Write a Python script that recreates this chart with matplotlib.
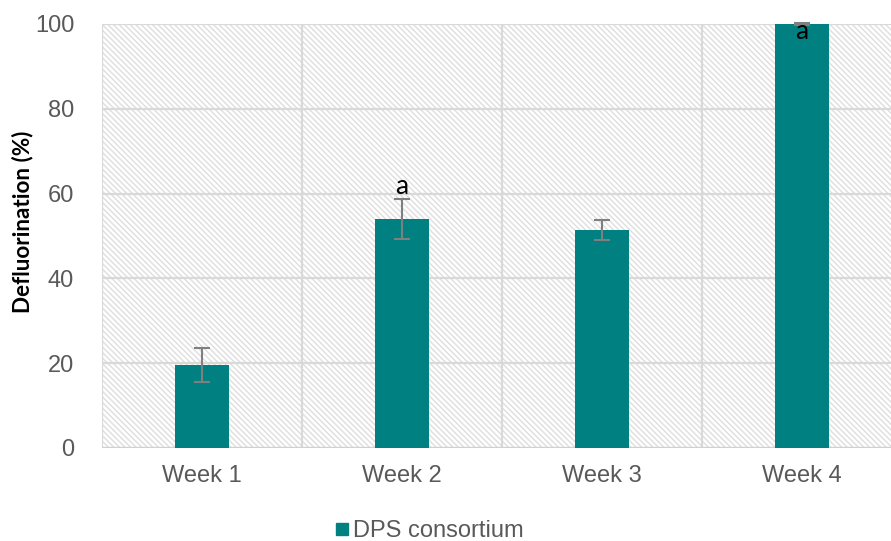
import matplotlib
matplotlib.use("Agg")
import matplotlib.pyplot as plt
from matplotlib.patches import Rectangle
from matplotlib.lines import Line2D

plt.rcParams['font.family'] = ['Liberation Sans', 'DejaVu Sans']
plt.rcParams['hatch.color'] = '#dedede'
plt.rcParams['hatch.linewidth'] = 1.0

weeks = ["Week 1", "Week 2", "Week 3", "Week 4"]
defluorination = [19.6, 54.0, 51.4, 100.0]
errors = [4.0, 4.7, 2.4, 0.3]
letters = ["", "a", "", "a"]
letter_baseline = [None, 59.9, None, 96.5]
series_name = "DPS consortium"

teal = "#008080"
grid_c = "#d9d9d9"
text_c = "#595959"

fig = plt.figure(figsize=(8.91, 5.41), dpi=100)
ax = fig.add_axes([102 / 891, 1 - 448 / 541, 800 / 891, 424 / 541])

x = list(range(len(weeks)))
ax.set_xlim(-0.5, len(weeks) - 0.5)
ax.set_ylim(0, 100)

# hatched plot-area background
ax.add_patch(Rectangle((0, 0), 1, 1, transform=ax.transAxes, facecolor='white',
                       edgecolor='#dedede', hatch='\\\\\\\\\\\\', linewidth=0, zorder=0))

# grid: horizontal at major ticks, vertical at category boundaries
for yv in range(0, 101, 20):
    ax.axhline(yv, color=grid_c, lw=1.6, zorder=1)
for xv in [-0.5, 0.5, 1.5, 2.5]:
    ax.axvline(xv, color=grid_c, lw=1.6, zorder=1)

ax.bar(x, defluorination, width=0.27, color=teal, zorder=3)
ax.errorbar(x, defluorination, yerr=errors, fmt='none', ecolor='#7f7f7f',
            elinewidth=1.5, capsize=6, capthick=1.5, zorder=4, clip_on=False)

for xi, lab, yb in zip(x, letters, letter_baseline):
    if lab:
        ax.text(xi, yb, lab, ha='center', va='baseline', fontsize=19,
                family=['Lato', 'DejaVu Sans'], color='black', zorder=5)

for s in ax.spines.values():
    s.set_visible(False)
ax.axhline(0, color='#d0d0d0', lw=1.6, zorder=2)

ax.set_yticks(range(0, 101, 20))
ax.set_xticks(x)
ax.set_xticklabels(weeks)
ax.tick_params(axis='both', length=0, labelsize=17, colors=text_c)
ax.tick_params(axis='y', pad=20)
ax.tick_params(axis='x', pad=12)
ax.set_ylabel("Defluorination (%)", fontsize=16.2, fontweight='bold', color='black',
              family=['Lato', 'DejaVu Sans'])
ax.yaxis.set_label_coords(-0.086, 0.533)

handle = Line2D([], [], marker='s', linestyle='none', markersize=9,
                markerfacecolor=teal, markeredgecolor=teal)
fig.legend([handle], [series_name], loc='center', bbox_to_anchor=(428 / 891, 1 - 531 / 541),
           frameon=False, fontsize=17, labelcolor=text_c, handletextpad=0.1,
           borderaxespad=0, handlelength=0.8)

fig.savefig("out.png", dpi=100)
